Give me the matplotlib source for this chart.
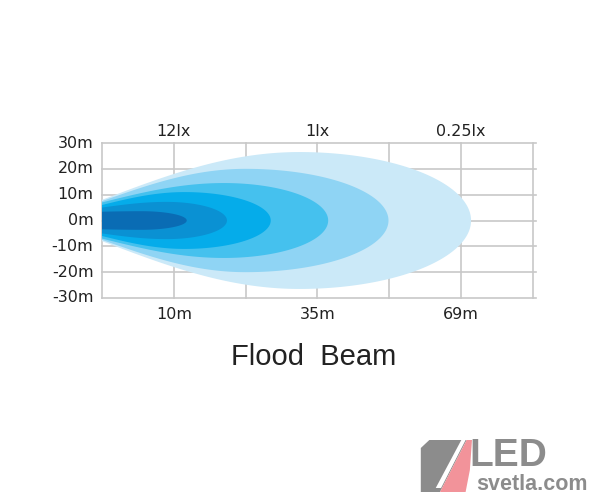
"""
    Flood beam pattern (isolux lobes)
"""

import numpy as np
import matplotlib.pyplot as plt
from matplotlib.patches import Polygon

plt.rcParams['font.family'] = ['DejaVu Sans']

# Axis labels
y_ticks = [30, 20, 10, 0, -10, -20, -30]
y_labels = ['30m', '20m', '10m', '0m', '-10m', '-20m', '-30m']
x_tick_pos = [1, 3, 5]
x_labels = ['10m', '35m', '69m']
lux_labels = ['12lx', '1lx', '0.25lx']

# Lobes, outer to inner (x in grid units, y in metres)
lobe_reach = [5.14, 3.99, 3.15, 2.35, 1.74, 1.18]
lobe_peak_x = [2.75, 2.0, 1.7, 1.15, 0.9, 0.55]
lobe_half_width = [26.5, 20.0, 14.5, 11.0, 7.2, 3.6]
lobe_start_width = [8.0, 7.5, 7.0, 6.0, 5.0, 3.4]
lobe_colors = ['#cbe9f8', '#8fd4f4', '#45c1ee', '#05acea', '#0a91d3', '#0a6cb4']


def lobe_outline(reach, peak, half, start):
    """
        Tapered left part + half ellipse on the right
    """
    xl = np.linspace(0, peak, 80)
    yl = start + (half - start) * np.sin(np.pi / 2 * xl / peak)
    t = np.linspace(0, np.pi / 2, 120)
    xr = peak + (reach - peak) * np.sin(t)
    yr = half * np.cos(t)
    xs = np.concatenate([xl, xr])
    ys = np.concatenate([yl, yr])
    upper = np.column_stack([xs, ys])
    lower = np.column_stack([xs[::-1], -ys[::-1]])
    return np.vstack([upper, lower])


fig = plt.figure(figsize=(6, 5), dpi=100)
ax = fig.add_axes([0.17, 0.404, 0.718, 0.31])

for reach, peak, half, start, col in zip(lobe_reach, lobe_peak_x, lobe_half_width,
                                         lobe_start_width, lobe_colors):
    ax.add_patch(Polygon(lobe_outline(reach, peak, half, start),
                         closed=True, facecolor=col, edgecolor='none', zorder=2))

# Grid
for yv in y_ticks:
    ax.plot([0, 6.04], [yv, yv], color='#c8c8c8', lw=1.2, zorder=1, clip_on=False)
for xv in range(0, 7):
    ax.plot([xv, xv], [-30, 30], color='#c8c8c8', lw=1.2, zorder=1, clip_on=False)

ax.set_xlim(0, 6)
ax.set_ylim(-30, 30)
ax.axis('off')

for yv, lab in zip(y_ticks, y_labels):
    ax.text(-0.12, yv, lab, ha='right', va='center', fontsize=11.5, color='#222222')
for xv, lab in zip(x_tick_pos, x_labels):
    ax.text(xv, -36.5, lab, ha='center', va='center', fontsize=11.5, color='#222222')
for xv, lab in zip(x_tick_pos, lux_labels):
    ax.text(xv, 34.5, lab, ha='center', va='center', fontsize=11.5, color='#222222')

fig.text(0.522, 0.286, 'Flood  Beam', ha='center', va='center', fontsize=21,
         color='#222222', family='Liberation Sans')

# Logo
logo = fig.add_axes([0.68, 0.0, 0.32, 0.14])
logo.set_xlim(0, 180)
logo.set_ylim(0, 70)
logo.axis('off')
logo.add_patch(Polygon([[12, 8], [30, 8], [55, 60], [20, 60], [12, 52]],
                       closed=True, facecolor='#8c8c8c', edgecolor='none'))
logo.add_patch(Polygon([[30, 8], [54, 8], [58, 30], [60, 60], [55, 60]],
                       closed=True, facecolor='#f2939a', edgecolor='none'))
logo.add_patch(Polygon([[26, 12], [50, 60], [54, 60], [31, 12]],
                       closed=True, facecolor='white', edgecolor='none'))
logo.text(58, 44, 'LED', fontsize=28, fontweight='bold', color='#8c8c8c',
          ha='left', va='center', family='Liberation Sans')
logo.text(64, 15, 'svetla.com', fontsize=15.5, fontweight='bold', color='#8c8c8c',
          ha='left', va='center', family='Liberation Sans')

fig.savefig('out.png', dpi=100)
